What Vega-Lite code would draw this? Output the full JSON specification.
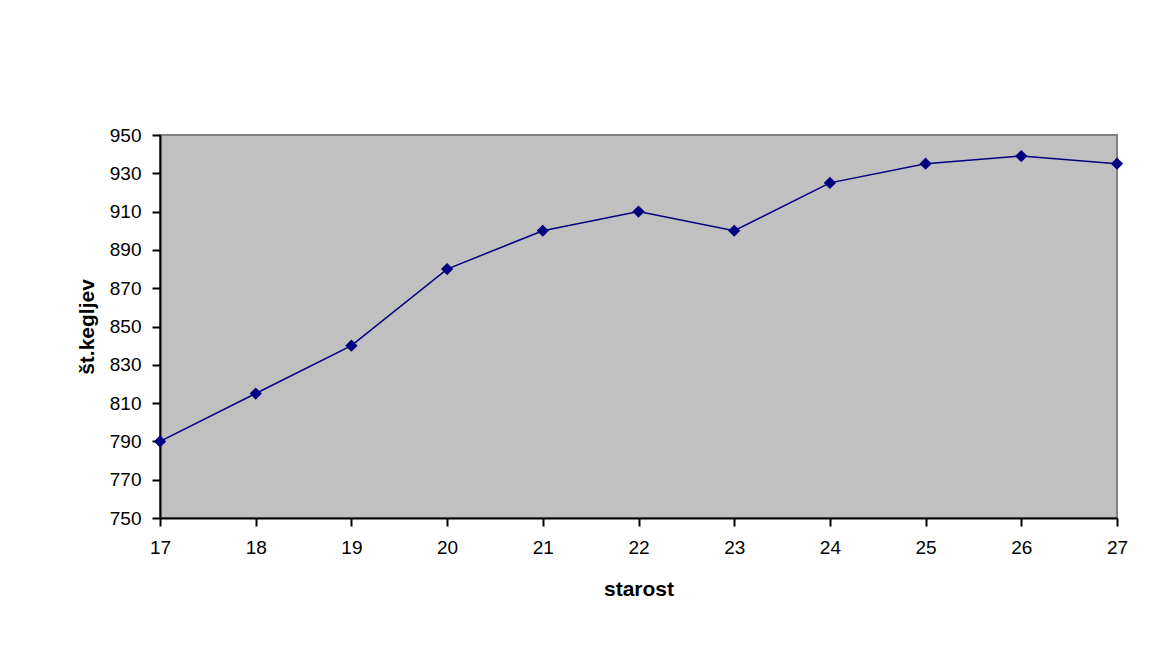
{
  "$schema": "https://vega.github.io/schema/vega-lite/v6.json",
  "autosize": {"type": "none"},
  "width": 957,
  "height": 383,
  "padding": {"left": 160, "top": 135, "right": 53, "bottom": 130},
  "background": "white",
  "config": {
    "view": {"fill": "#C0C0C0", "stroke": "#808080", "strokeWidth": 2},
    "font": "Liberation Sans",
    "axis": {
      "grid": false,
      "domainColor": "black",
      "domainWidth": 2,
      "tickColor": "black",
      "tickWidth": 2,
      "tickSize": 8,
      "labelFont": "Liberation Sans",
      "labelFontSize": 19,
      "labelColor": "black",
      "labelFlush": false,
      "titleFont": "Liberation Sans",
      "titleFontSize": 21,
      "titleFontWeight": "bold",
      "titleColor": "black"
    }
  },
  "data": {
    "values": [
      {"starost": 17, "kegljev": 790},
      {"starost": 18, "kegljev": 815},
      {"starost": 19, "kegljev": 840},
      {"starost": 20, "kegljev": 880},
      {"starost": 21, "kegljev": 900},
      {"starost": 22, "kegljev": 910},
      {"starost": 23, "kegljev": 900},
      {"starost": 24, "kegljev": 925},
      {"starost": 25, "kegljev": 935},
      {"starost": 26, "kegljev": 939},
      {"starost": 27, "kegljev": 935}
    ]
  },
  "mark": {"type": "line", "color": "#000080", "strokeWidth": 1.5, "point": {"shape": "diamond", "size": 150, "filled": true, "color": "#000080", "opacity": 1}},
  "encoding": {
    "x": {
      "field": "starost", "type": "quantitative",
      "scale": {"domain": [17, 27], "nice": false, "zero": false},
      "axis": {"values": [17,18,19,20,21,22,23,24,25,26,27], "title": "starost", "labelPadding": 12, "titlePadding": 21, "format": "d"}
    },
    "y": {
      "field": "kegljev", "type": "quantitative",
      "scale": {"domain": [750, 950], "nice": false, "zero": false},
      "axis": {"values": [750,770,790,810,830,850,870,890,910,930,950], "title": "št.kegljev", "labelPadding": 11, "titlePadding": 12, "format": "d"}
    }
  }
}
